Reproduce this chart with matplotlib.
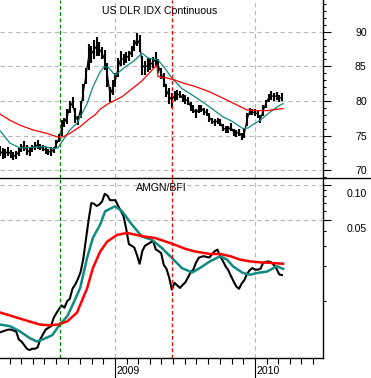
import matplotlib
matplotlib.use('Agg')
import matplotlib.pyplot as plt
import matplotlib.dates as mdates
import pandas as pd
from matplotlib.ticker import FixedLocator, NullFormatter
from matplotlib.lines import Line2D

plt.rcParams['font.family'] = ['Liberation Sans', 'DejaVu Sans']

# weekly bars (Fridays from 2008-03-07)
week_start = '2008-03-07'
dx_low = [72.0, 71.6, 71.8, 72.0, 71.8, 71.4, 71.6, 72.0, 72.6, 72.8,
          72.2, 72.1, 72.6, 72.9, 73.0, 72.9, 72.7, 72.4, 72.2, 72.0,
          72.5, 73.2, 74.0, 75.0, 76.2, 76.6, 78.2, 79.0, 76.8, 76.5,
          77.5, 80.0, 82.5, 84.5, 85.5, 86.0, 86.5, 86.5, 86.0, 84.5,
          82.0, 79.8, 80.8, 82.0, 83.5, 85.0, 85.2, 85.5, 85.8, 86.3,
          87.2, 88.0, 87.0, 83.8, 83.8, 84.2, 84.5, 84.8, 85.0, 84.0,
          83.2, 82.0, 80.5, 79.6, 79.0, 80.0, 80.2, 80.4, 79.8, 79.6,
          79.4, 78.6, 78.2, 77.6, 78.2, 78.4, 78.0, 77.8, 77.0, 76.6,
          76.4, 76.6, 76.4, 75.6, 75.4, 75.4, 75.6, 75.0, 74.8, 75.0,
          74.4, 74.6, 76.4, 78.0, 78.0, 77.8, 77.6, 76.8, 77.8, 79.0,
          79.8, 80.2, 80.0, 80.2, 79.8, 80.0]
dx_high = [73.5, 73.2, 73.0, 73.4, 72.9, 72.6, 72.8, 73.2, 73.8, 74.2,
           73.6, 73.2, 73.6, 74.0, 74.3, 73.8, 73.6, 73.3, 73.1, 73.3,
           73.4, 74.3, 75.2, 77.2, 77.6, 78.8, 80.0, 80.5, 79.0, 77.8,
           80.0, 82.5, 84.8, 88.2, 88.0, 88.8, 89.3, 88.5, 87.8, 87.4,
           85.5, 82.0, 83.0, 84.0, 86.2, 87.2, 86.8, 87.0, 87.2, 88.0,
           88.8, 89.8, 89.5, 86.5, 85.8, 86.2, 86.0, 86.4, 87.0, 86.0,
           84.8, 84.0, 82.5, 81.8, 81.2, 81.5, 81.6, 81.5, 81.0, 80.8,
           80.6, 79.8, 79.4, 78.8, 79.4, 79.4, 79.0, 78.8, 78.2, 77.6,
           77.4, 77.6, 77.4, 76.6, 76.4, 76.4, 76.8, 76.0, 75.8, 76.0,
           75.4, 76.0, 78.2, 79.0, 78.8, 78.8, 78.6, 78.0, 79.4, 80.2,
           81.0, 81.4, 81.2, 81.3, 80.9, 81.1]
ratio = [0.0054, 0.0055, 0.0056, 0.0057, 0.0057, 0.0056, 0.0055, 0.0047, 0.0045, 0.0042,
         0.0039, 0.0038, 0.0039, 0.0039, 0.0040, 0.0047, 0.0052, 0.0057, 0.0059, 0.0061,
         0.0072, 0.0079, 0.0086, 0.0092, 0.0088, 0.0100, 0.0105, 0.0128, 0.0139, 0.0155,
         0.0178, 0.0230, 0.0340, 0.0500, 0.0700, 0.0690, 0.0660, 0.0680, 0.0720, 0.0840,
         0.0810, 0.0740, 0.0740, 0.0740, 0.0660, 0.0600, 0.0540, 0.0420, 0.0310, 0.0300,
         0.0290, 0.0250, 0.0210, 0.0270, 0.0300, 0.0310, 0.0320, 0.0330, 0.0280, 0.0270,
         0.0260, 0.0205, 0.0190, 0.0160, 0.0126, 0.0144, 0.0137, 0.0130, 0.0138, 0.0145,
         0.0160, 0.0178, 0.0187, 0.0215, 0.0236, 0.0242, 0.0244, 0.0240, 0.0238, 0.0255,
         0.0270, 0.0278, 0.0244, 0.0222, 0.0200, 0.0185, 0.0165, 0.0148, 0.0134, 0.0128,
         0.0142, 0.0152, 0.0172, 0.0185, 0.0193, 0.0187, 0.0187, 0.0190, 0.0214, 0.0218,
         0.0220, 0.0216, 0.0205, 0.0190, 0.0170, 0.0168]

# moving averages, US dollar index
dx_fast_dates = ['2008-03-07', '2008-04-02', '2008-04-28', '2008-06-01', '2008-07-02',
                 '2008-07-23', '2008-08-05', '2008-08-18', '2008-09-05', '2008-09-24',
                 '2008-10-20', '2008-11-04', '2008-11-23', '2008-12-03', '2008-12-14',
                 '2009-01-01', '2009-01-27', '2009-02-22', '2009-03-12', '2009-03-28',
                 '2009-04-23', '2009-05-11', '2009-05-29', '2009-06-24', '2009-07-28',
                 '2009-08-29', '2009-10-09', '2009-11-04', '2009-11-30', '2009-12-14',
                 '2009-12-27', '2010-01-14', '2010-02-09', '2010-03-07', '2010-03-15']
dx_fast = [75.7, 73.9, 73.2, 73.3, 73.4, 73.1, 73.2, 74.3, 75.8, 76.8,
           79.6, 82.0, 84.2, 84.9, 84.9, 83.7, 84.9, 85.9, 86.9, 86.2,
           85.9, 84.7, 83.3, 81.8, 80.6, 79.4, 77.7, 77.0, 76.0, 76.1,
           76.6, 77.2, 78.4, 79.4, 79.6]
dx_slow_dates = ['2008-03-07', '2008-04-02', '2008-04-28', '2008-06-01', '2008-07-08',
                 '2008-08-03', '2008-08-18', '2008-09-05', '2008-10-02', '2008-10-28',
                 '2008-11-10', '2008-11-23', '2008-12-14', '2009-01-19', '2009-02-22',
                 '2009-03-12', '2009-04-20', '2009-04-23', '2009-05-11', '2009-06-06',
                 '2009-07-02', '2009-07-28', '2009-09-05', '2009-10-09', '2009-11-15',
                 '2009-12-11', '2010-01-06', '2010-02-01', '2010-02-27', '2010-03-15']
dx_slow = [78.1, 77.2, 76.5, 75.8, 75.3, 74.8, 74.8, 75.3, 76.3, 77.5,
           78.0, 78.8, 79.6, 80.6, 82.1, 82.9, 85.2, 83.5, 83.4, 83.0,
           82.5, 82.1, 81.3, 80.4, 79.4, 78.7, 78.6, 78.6, 78.8, 78.9]

# moving averages, AMGN/BFI
ratio_fast_dates = ['2008-03-07', '2008-04-02', '2008-04-28', '2008-05-24', '2008-06-11',
                    '2008-06-27', '2008-07-21', '2008-08-10', '2008-08-29', '2008-09-13',
                    '2008-10-02', '2008-10-20', '2008-11-04', '2008-11-23', '2008-12-06',
                    '2009-01-01', '2009-01-19', '2009-02-14', '2009-03-12', '2009-04-07',
                    '2009-05-03', '2009-05-29', '2009-06-24', '2009-07-21', '2009-08-10',
                    '2009-09-05', '2009-10-02', '2009-10-20', '2009-11-04', '2009-11-30',
                    '2009-12-19', '2010-01-06', '2010-02-01', '2010-02-27', '2010-03-15']
ratio_fast = [0.0063, 0.0061, 0.0055, 0.0048, 0.0045, 0.0047, 0.0051, 0.0063, 0.0074, 0.0094,
              0.0130, 0.0236, 0.0350, 0.0456, 0.0594, 0.0656, 0.0594, 0.0456, 0.0360, 0.0338,
              0.0287, 0.0236, 0.0193, 0.0177, 0.0193, 0.0220, 0.0244, 0.0228, 0.0200, 0.0175,
              0.0169, 0.0175, 0.0180, 0.0200, 0.0190]
ratio_slow_dates = ['2008-03-07', '2008-04-10', '2008-05-16', '2008-06-19', '2008-07-15',
                    '2008-08-05', '2008-08-29', '2008-09-24', '2008-10-02', '2008-10-20',
                    '2008-11-04', '2008-11-23', '2008-12-11', '2009-01-06', '2009-02-01',
                    '2009-02-22', '2009-03-20', '2009-04-15', '2009-05-11', '2009-06-06',
                    '2009-07-02', '2009-07-28', '2009-09-05', '2009-10-02', '2009-10-28',
                    '2009-11-23', '2009-12-19', '2010-01-14', '2010-02-09', '2010-03-15']
ratio_slow = [0.0080, 0.0074, 0.0068, 0.0063, 0.0062, 0.0063, 0.0067, 0.0080, 0.0093, 0.0129,
              0.0192, 0.0267, 0.0325, 0.0372, 0.0387, 0.0374, 0.0360, 0.0350, 0.0328, 0.0306,
              0.0283, 0.0268, 0.0255, 0.0255, 0.0244, 0.0228, 0.0220, 0.0216, 0.0214, 0.0210]

signal_dates = ['2008-08-10', '2009-05-29']
signal_colors = ['#008000', '#ff0000']
year_labels = ['2008', '2009', '2010']
dx_ticks = [70, 75, 80, 85, 90]
ratio_ticks = [(0.10, '0.10'), (0.05, '0.05')]

weeks = pd.date_range(week_start, periods=len(dx_low), freq='7D')
x0, x1 = pd.Timestamp('2008-03-07'), pd.Timestamp('2010-06-27')
years = mdates.date2num([pd.Timestamp(y + '-01-01') for y in year_labels])
months = mdates.date2num(pd.date_range('2008-04-01', '2010-06-01', freq='MS'))

TEAL = '#0f8a80'
RED = '#ff0000'
GRID = dict(color='#b8b8b8', lw=0.8, ls=(0, (4, 3)))
FS = 7.6

fig = plt.figure(figsize=(3.71, 3.78), dpi=100)
ax1 = fig.add_axes([0, 0.529, 0.8706, 0.471])
ax2 = fig.add_axes([0, 0.0529, 0.8706, 0.4762])

# top panel: dollar index bars + averages
mid = [(lo + hi) / 2 for lo, hi in zip(dx_low, dx_high)]
ax1.vlines(weeks, dx_low, dx_high, color='black', lw=1.5)
ax1.plot(weeks, mid, color='black', lw=0.9)
ax1.plot(pd.to_datetime(dx_fast_dates), dx_fast, color=TEAL, lw=0.9)
ax1.plot(pd.to_datetime(dx_slow_dates), dx_slow, color=RED, lw=0.9)
ax1.set_ylim(68.86, 94.58)
ax1.yaxis.set_major_locator(FixedLocator(dx_ticks))
ax1.yaxis.set_minor_locator(FixedLocator(range(69, 95)))
ax1.text(0.495, 0.938, 'US DLR IDX Continuous', transform=ax1.transAxes,
         ha='center', va='center', fontsize=FS)
for v in dx_ticks:
    ax1.annotate(str(v), xy=(1, v), xycoords=('axes fraction', 'data'),
                 xytext=(31.5, -0.8), textcoords='offset points',
                 ha='right', va='center', fontsize=FS)

# bottom panel: AMGN/BFI ratio (log scale)
ax2.plot(weeks, ratio, color='black', lw=1.5)
ax2.plot(pd.to_datetime(ratio_fast_dates), ratio_fast, color=TEAL, lw=1.8)
ax2.plot(pd.to_datetime(ratio_slow_dates), ratio_slow, color=RED, lw=1.8)
ax2.set_yscale('log')
ax2.set_ylim(0.003247, 0.1149)
ax2.yaxis.set_major_locator(FixedLocator([v for v, _ in ratio_ticks]))
ax2.yaxis.set_minor_locator(FixedLocator([0.01, 0.02, 0.03, 0.04, 0.06, 0.07, 0.08, 0.09]))
ax2.yaxis.set_minor_formatter(NullFormatter())
ax2.text(0.5, 0.947, 'AMGN/BFI', transform=ax2.transAxes,
         ha='center', va='center', fontsize=FS)
for v, s in ratio_ticks:
    ax2.annotate(s, xy=(1, v), xycoords=('axes fraction', 'data'),
                 xytext=(31.5, -6.8), textcoords='offset points',
                 ha='right', va='center', fontsize=FS)
for d, s in zip(years, year_labels):
    ax2.annotate(s, xy=(d, 0), xycoords=('data', 'axes fraction'),
                 xytext=(1.2, -9.4), textcoords='offset points',
                 ha='left', va='center', fontsize=FS)

for ax in (ax1, ax2):
    ax.set_xlim(x0, x1)
    ax.xaxis.set_major_locator(FixedLocator(years))
    ax.xaxis.set_minor_locator(FixedLocator(months))
    ax.xaxis.set_major_formatter(NullFormatter())
    ax.xaxis.set_minor_formatter(NullFormatter())
    ax.yaxis.set_major_formatter(NullFormatter())
    ax.yaxis.tick_right()
    ax.tick_params(axis='y', which='major', direction='out', length=5.8, width=0.8)
    ax.tick_params(axis='y', which='minor', direction='out', length=2.2, width=0.8)
    ax.grid(True, which='major', **GRID)
    for d, c in zip(signal_dates, signal_colors):
        ax.axvline(pd.Timestamp(d), color=c, lw=0.9, ls=(0, (3, 2)))
    for side in ('left', 'top', 'bottom'):
        ax.spines[side].set_visible(False)
    ax.spines['right'].set_linewidth(1.0)

ax1.tick_params(axis='x', which='both', length=0)
ax2.spines['bottom'].set_visible(True)
ax2.spines['bottom'].set_linewidth(1.0)
ax2.tick_params(axis='x', which='major', direction='out', length=14.4, width=0.8)
ax2.tick_params(axis='x', which='minor', direction='out', length=4.3, width=0.8)

# panel separator runs across the whole width
fig.add_artist(Line2D([0, 1], [0.529, 0.529], transform=fig.transFigure, color='black', lw=1.0))

fig.savefig('out.png', dpi=100)
